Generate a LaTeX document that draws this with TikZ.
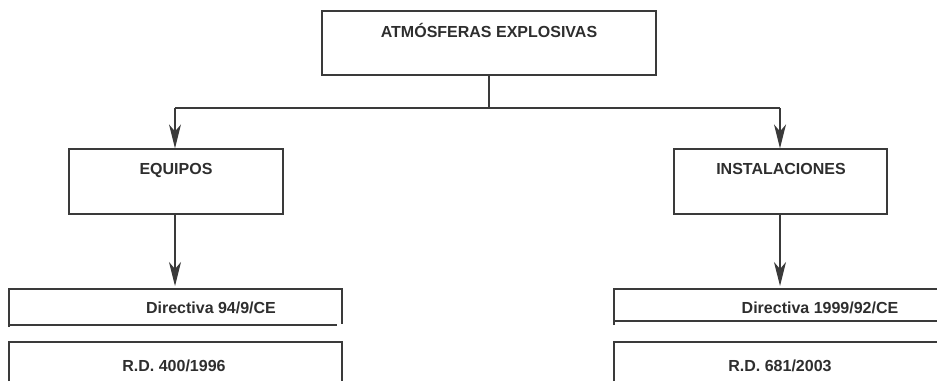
\documentclass[tikz,border=0pt]{standalone}
\usepackage{fontspec}
\setmainfont{Liberation Sans}
\usetikzlibrary{arrows.meta}
\definecolor{ink}{HTML}{3A3A3A}
\definecolor{txt}{HTML}{2E2E2E}
\begin{document}
\begin{tikzpicture}[x=1pt,y=-1pt,
  box/.style={draw=ink,line width=1.2pt,rectangle,inner sep=0pt},
  lab/.style={text=txt,font=\fontsize{16}{19}\selectfont\bfseries,inner sep=0pt,anchor=base},
  line/.style={draw=ink,line width=1.2pt},
  arr/.style={line,-{Stealth[length=24pt,width=12pt,inset=7pt]}}]
\useasboundingbox (0,0) rectangle (937,381);
% top box
\node[box,minimum width=334pt,minimum height=64pt] (atm) at (489,43) {};
\node[lab] (atmt) at (489,37) {ATMÓSFERAS EXPLOSIVAS};
% second level
\node[box,minimum width=214pt,minimum height=65pt] (equ) at (176,181.5) {};
\node[lab] (equt) at (176,174) {EQUIPOS};
\node[box,minimum width=213pt,minimum height=65pt] (ins) at (780.5,181.5) {};
\node[lab] (inst) at (781,174) {INSTALACIONES};
% connectors from top
\coordinate (split) at (489,108);
\coordinate (lft) at (175,108);
\coordinate (rgt) at (780,108);
\draw[line] (atm.south) -- (split);
\draw[line] (lft) -- (rgt);
\draw[arr] (lft) -- (lft |- equ.north);
\draw[arr] (rgt) -- (rgt |- ins.north);
% lower boxes (open outlines)
\coordinate (dl) at (175,289);
\coordinate (dr) at (780,289);
\draw[arr,shorten >=3pt] (equ.south -| dl) -- (dl);
\draw[arr,shorten >=3pt] (ins.south -| dr) -- (dr);
% left directive
\draw[line] (9,327) -- (9,289) -- (342,289) -- (342,324);
\draw[line] (9,325) -- (337,325);
\node[lab] (d1) at (211,313) {Directiva 94/9/CE};
\draw[line] (9,381) -- (9,342) -- (342,342) -- (342,381);
\node[lab] (r1) at (174,371) {R.D. 400/1996};
% right directive
\draw[line] (614,325) -- (614,289) -- (937,289);
\draw[line] (614,321) -- (937,321);
\node[lab] (d2) at (820,313) {Directiva 1999/92/CE};
\draw[line] (614,381) -- (614,342) -- (937,342);
\node[lab] (r2) at (780,371) {R.D. 681/2003};
\end{tikzpicture}
\end{document}
